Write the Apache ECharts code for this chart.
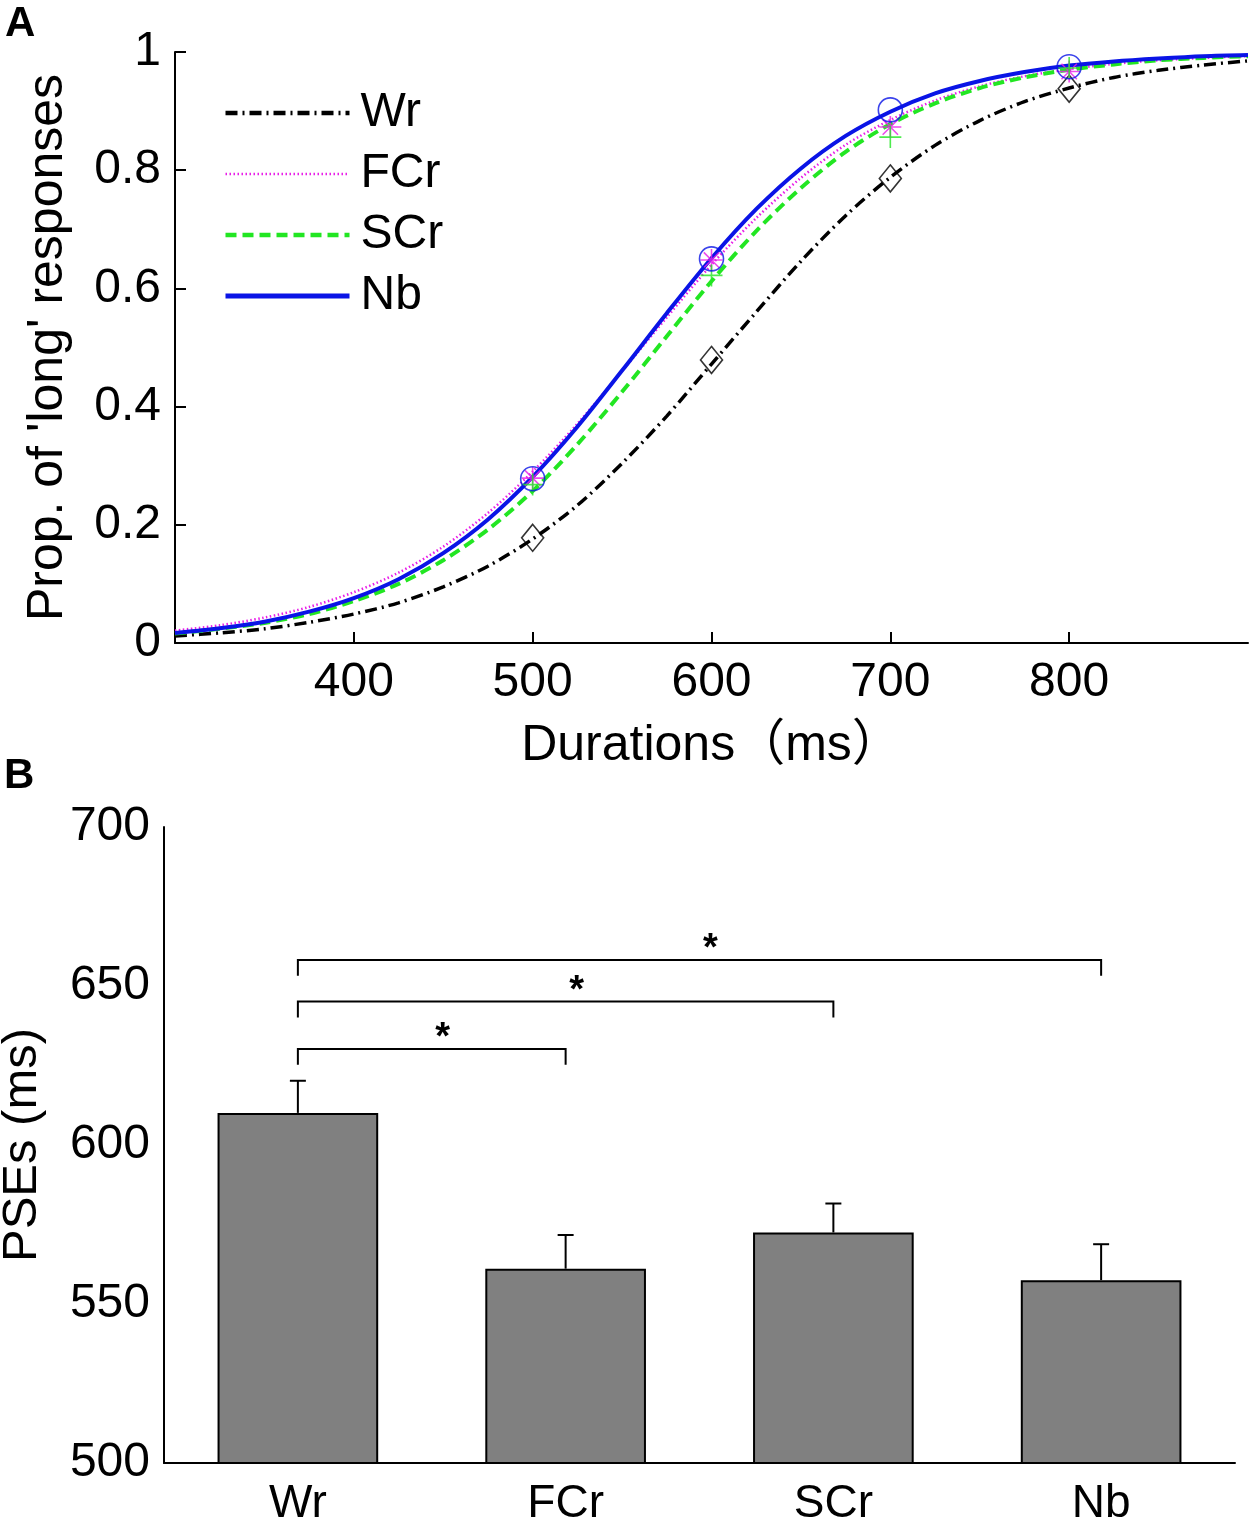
<!DOCTYPE html>
<html>
<head>
<meta charset="utf-8">
<script src="https://cdn.jsdelivr.net/npm/echarts@6/dist/echarts.min.js"></script>
<style>
html, body { margin: 0; padding: 0; background: #fff; }
#chart { width: 1252px; height: 1527px; }
</style>
</head>
<body>
<div id="chart"></div>
<script>
// panel A: fitted curves, every 25 ms
var durations = [300,325,350,375,400,425,450,475,500,525,550,575,600,625,650,675,700,725,750,775,800,825,850,875,900];
var wrFit  = [0.012,0.017,0.024,0.035,0.049,0.068,0.095,0.130,0.176,0.233,0.304,0.384,0.472,0.560,0.646,0.723,0.788,0.842,0.884,0.916,0.939,0.957,0.969,0.978,0.985];
var fcrFit = [0.021,0.030,0.043,0.061,0.086,0.119,0.163,0.220,0.290,0.371,0.460,0.551,0.640,0.719,0.787,0.843,0.885,0.918,0.942,0.959,0.971,0.980,0.986,0.990,0.993];
var scrFit = [0.016,0.024,0.034,0.049,0.071,0.100,0.140,0.192,0.257,0.336,0.425,0.519,0.612,0.697,0.770,0.831,0.878,0.913,0.939,0.957,0.970,0.979,0.986,0.990,0.993];
var nbFit  = [0.017,0.025,0.036,0.053,0.076,0.108,0.152,0.209,0.281,0.366,0.461,0.558,0.651,0.734,0.803,0.858,0.899,0.930,0.951,0.966,0.977,0.984,0.989,0.993,0.995];

// panel A: observed proportions
var stimDurations = [500,600,700,800];
var wrObs  = [0.178,0.479,0.786,0.938];
var fcrObs = [0.279,0.648,0.873,0.967];
var scrObs = [0.268,0.622,0.856,0.973];
var nbObs  = [0.278,0.650,0.902,0.975];

// panel B: PSEs
var conditions = ["Wr","FCr","SCr","Nb"];
var pseMean = [610.1,561.1,572.5,557.5];
var pseErr  = [10.1,10.6,9.1,11.3];

// significance brackets (category indices, level in ms)
var bracketFrom  = [0,0,0];
var bracketTo    = [1,2,3];
var bracketLevel = [630.2,645.1,658.2];
var bracketDrop  = 5;

var FONT = "'Liberation Sans', Arial, 'Noto Sans CJK SC', sans-serif";
var C_WR = "#000000", C_FCR = "#e81ee8", C_SCR = "#22e622", C_NB = "#0a14e6";

var chart = echarts.init(document.getElementById("chart"));

function pairs(xs, ys) {
    return xs.map(function (x, i) { return [x, ys[i]]; });
}

function fitLine(name, ys, color, width, type) {
    return {
        name: name,
        type: "line",
        xAxisIndex: 0,
        yAxisIndex: 0,
        data: pairs(durations, ys),
        smooth: 0.3,
        symbol: "none",
        lineStyle: { color: color, width: width, type: type },
        itemStyle: { color: color },
        z: 3
    };
}

function obsPoints(name, ys, symbol, size, color) {
    return {
        name: name,
        type: "scatter",
        xAxisIndex: 0,
        yAxisIndex: 0,
        data: pairs(stimDurations, ys),
        symbol: symbol,
        symbolSize: size,
        itemStyle: { color: "none", borderColor: color, borderWidth: 1.6 },
        z: 4
    };
}

var axisLineStyle = { lineStyle: { color: "#000", width: 2 } };
var labelStyle = { color: "#000", fontSize: 48, fontFamily: FONT };
var nameStyle = { color: "#000", fontSize: 50, fontFamily: FONT };

var option = {
    animation: false,
    backgroundColor: "#fff",
    grid: [
        { left: 175, top: 52, width: 1073, height: 591, containLabel: false, outerBoundsMode: "none" },
        { left: 164, top: 827, width: 1071, height: 636, containLabel: false, outerBoundsMode: "none" }
    ],
    legend: {
        orient: "vertical",
        left: 218,
        top: 84,
        itemWidth: 124,
        itemHeight: 14,
        itemGap: 13,
        itemStyle: { opacity: 0 },
        data: [
            { name: "Wr", lineStyle: { width: 4.5, type: [12,5,2,5] } },
            { name: "FCr", lineStyle: { width: 2.5 } },
            { name: "SCr", lineStyle: { width: 4.5 } },
            { name: "Nb", lineStyle: { width: 5 } }
        ],
        textStyle: { color: "#000", fontSize: 48, fontFamily: FONT, lineHeight: 48, padding: [0,0,0,6] }
    },
    xAxis: [
        {
            gridIndex: 0, type: "value", min: 300, max: 900, interval: 100,
            axisLine: axisLineStyle,
            axisTick: { inside: true, length: 11, lineStyle: { color: "#000", width: 2 } },
            axisLabel: Object.assign({ margin: 16, showMinLabel: false, showMaxLabel: false }, labelStyle),
            splitLine: { show: false },
            name: "Durations（ms）", nameLocation: "middle", nameGap: 78,
            nameTextStyle: nameStyle
        },
        {
            gridIndex: 1, type: "category", data: conditions,
            axisLine: { onZero: false, lineStyle: { color: "#000", width: 2 } },
            axisTick: { show: false },
            axisLabel: Object.assign({ margin: 18 }, labelStyle, { fontSize: 46 }),
            splitLine: { show: false }
        }
    ],
    yAxis: [
        {
            gridIndex: 0, type: "value", min: 0, max: 1, interval: 0.2,
            axisLine: { show: true, lineStyle: { color: "#000", width: 2 } },
            axisTick: { show: true, inside: true, length: 11, lineStyle: { color: "#000", width: 2 } },
            axisLabel: Object.assign({ margin: 14 }, labelStyle),
            splitLine: { show: false },
            name: "Prop. of 'long' responses", nameLocation: "middle", nameGap: 102,
            nameTextStyle: nameStyle
        },
        {
            gridIndex: 1, type: "value", min: 500, max: 700, interval: 50,
            axisLine: { show: true, lineStyle: { color: "#000", width: 2 } },
            axisTick: { show: false },
            axisLabel: Object.assign({ margin: 14 }, labelStyle),
            splitLine: { show: false },
            name: "PSEs (ms)", nameLocation: "middle", nameGap: 117,
            nameTextStyle: Object.assign({}, nameStyle, { fontSize: 49 })
        }
    ],
    graphic: [
        { type: "text", left: 5, top: 3, style: { text: "A", font: "bold 42px " + FONT, fill: "#000" } },
        { type: "text", left: 4, top: 755, style: { text: "B", font: "bold 42px " + FONT, fill: "#000" } }
    ],
    series: [
        fitLine("Wr", wrFit, C_WR, 3.5, [12,5,2,5]),
        fitLine("FCr", fcrFit, C_FCR, 2.5, [1.5,2.5]),
        fitLine("SCr", scrFit, C_SCR, 4, [11,6]),
        fitLine("Nb", nbFit, C_NB, 4, "solid"),
        obsPoints("Wr obs", wrObs, "diamond", [22,27], C_WR),
        obsPoints("FCr obs", fcrObs, "path://M0,5L10,5M5,0L5,10M1.5,1.5L8.5,8.5M8.5,1.5L1.5,8.5", 22, C_FCR),
        obsPoints("SCr obs", scrObs, "path://M0,5L10,5M5,0L5,10", 22, C_SCR),
        obsPoints("Nb obs", nbObs, "circle", 24, C_NB),
        {
            name: "PSE",
            type: "bar",
            xAxisIndex: 1,
            yAxisIndex: 1,
            data: pseMean,
            barWidth: "60%",
            itemStyle: { color: "#808080", borderColor: "#000", borderWidth: 2 },
            z: 2
        },
        {
            name: "PSE err",
            type: "custom",
            xAxisIndex: 1,
            yAxisIndex: 1,
            data: pseMean.map(function (m, i) { return [i, m, m + pseErr[i]]; }),
            renderItem: function (params, api) {
                var base = api.coord([api.value(0), api.value(1)]);
                var top = api.coord([api.value(0), api.value(2)]);
                var half = 8;
                return {
                    type: "group",
                    children: [
                        { type: "line", shape: { x1: base[0], y1: base[1], x2: top[0], y2: top[1] }, style: { stroke: "#000", lineWidth: 2 } },
                        { type: "line", shape: { x1: top[0] - half, y1: top[1], x2: top[0] + half, y2: top[1] }, style: { stroke: "#000", lineWidth: 2 } }
                    ]
                };
            },
            z: 5
        },
        {
            name: "brackets",
            type: "custom",
            xAxisIndex: 1,
            yAxisIndex: 1,
            data: bracketFrom.map(function (f, i) { return [f, bracketTo[i], bracketLevel[i]]; }),
            renderItem: function (params, api) {
                var lvl = api.value(2);
                var p1 = api.coord([api.value(0), lvl]);
                var p2 = api.coord([api.value(1), lvl]);
                var dropY = api.coord([api.value(0), lvl - bracketDrop])[1];
                return {
                    type: "group",
                    children: [
                        {
                            type: "polyline",
                            shape: { points: [[p1[0], dropY], [p1[0], p1[1]], [p2[0], p2[1]], [p2[0], dropY]] },
                            style: { stroke: "#000", lineWidth: 2, fill: "none" }
                        },
                        {
                            type: "text",
                            style: {
                                text: "*", x: (p1[0] + p2[0]) / 2 + 11, y: p1[1] - 10,
                                align: "center", verticalAlign: "middle",
                                font: "bold 38px " + FONT, fill: "#000"
                            }
                        }
                    ]
                };
            },
            z: 5
        }
    ]
};

chart.setOption(option);
</script>
</body>
</html>
